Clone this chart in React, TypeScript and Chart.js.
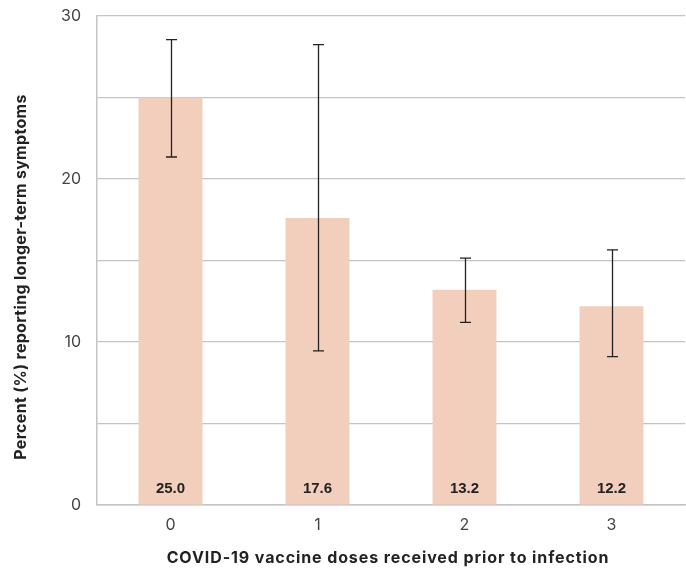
import React, { useEffect, useRef } from "react";
import { Chart, registerables } from "chart.js";

Chart.register(...registerables);

const categories = ["0", "1", "2", "3"];
const values = [25.0, 17.6, 13.2, 12.2];
const errLow = [21.35, 9.45, 11.2, 9.1];
const errHigh = [28.55, 28.25, 15.15, 15.65];
const yLabelledTicks = [0, 10, 20, 30];

const xTitle = "COVID-19 vaccine doses received prior to infection";
const yTitle = "Percent (%) reporting longer-term symptoms";

const FONT = "Inter, 'Open Sans', sans-serif";

const extrasPlugin = {
  id: "extras",
  afterDatasetsDraw(chart: any) {
    const ctx = chart.ctx;
    const meta = chart.getDatasetMeta(0);
    const y = chart.scales.y;
    ctx.save();
    ctx.strokeStyle = "#222222";
    ctx.lineWidth = 1.3;
    meta.data.forEach((bar: any, i: number) => {
      const x = Math.round(bar.x) + 0.5;
      const yh = y.getPixelForValue(errHigh[i]);
      const yl = y.getPixelForValue(errLow[i]);
      ctx.beginPath();
      ctx.moveTo(x, yh);
      ctx.lineTo(x, yl);
      ctx.moveTo(x - 5.5, yh);
      ctx.lineTo(x + 5.5, yh);
      ctx.moveTo(x - 5.5, yl);
      ctx.lineTo(x + 5.5, yl);
      ctx.stroke();
    });
    ctx.fillStyle = "#222222";
    ctx.font = "bold 15px 'Liberation Sans', Arial, sans-serif";
    ctx.textAlign = "center";
    ctx.textBaseline = "middle";
    const base = y.getPixelForValue(0);
    meta.data.forEach((bar: any, i: number) => {
      ctx.fillText(values[i].toFixed(1), bar.x, base - 16);
    });
    ctx.restore();
  },
  afterDraw(chart: any) {
    const ctx = chart.ctx;
    const area = chart.chartArea;
    ctx.save();
    ctx.fillStyle = "#222222";
    ctx.font = "bold 16px " + FONT;
    ctx.textAlign = "center";
    ctx.textBaseline = "middle";
    (ctx as any).letterSpacing = "0.9px";
    ctx.fillText(xTitle, (area.left + area.right) / 2 - 3, 558);
    (ctx as any).letterSpacing = "0.3px";
    ctx.translate(21, 277);
    ctx.rotate(-Math.PI / 2);
    ctx.fillText(yTitle, 0, 0);
    ctx.restore();
  },
};

function BarChart() {
  const ref = useRef<HTMLCanvasElement | null>(null);
  useEffect(() => {
    if (!ref.current) return;
    const chart = new Chart(ref.current, {
      type: "bar",
      data: {
        labels: categories,
        datasets: [
          {
            data: values,
            backgroundColor: "#f2cebd",
            borderWidth: 0,
            categoryPercentage: 1,
            barPercentage: 0.435,
          },
        ],
      },
      options: {
        animation: false,
        responsive: true,
        maintainAspectRatio: false,
        layout: { padding: { top: 16, right: 1, left: 0, bottom: 0 } },
        plugins: {
          legend: { display: false },
          tooltip: { enabled: false },
        },
        scales: {
          x: {
            grid: { display: false, drawTicks: false },
            border: { display: true, color: "#c4c4c4", width: 1.5 },
            ticks: {
              color: "#444444",
              font: { family: FONT, size: 16 },
              padding: 11,
            },
            afterFit(scale: any) {
              scale.height = 66;
              scale.paddingLeft = 0;
              scale.paddingRight = 0;
            },
          },
          y: {
            min: 0,
            max: 30,
            grid: { color: "#c4c4c4", lineWidth: 1.2, drawTicks: false },
            border: { display: true, color: "#c4c4c4", width: 1.5 },
            ticks: {
              stepSize: 5,
              color: "#444444",
              font: { family: FONT, size: 16 },
              padding: 16,
              callback: (v: any) => (yLabelledTicks.includes(Number(v)) ? String(v) : ""),
            },
            afterFit(scale: any) {
              scale.width = 97;
              scale.paddingTop = 0;
              scale.paddingBottom = 0;
            },
          },
        },
      },
      plugins: [extrasPlugin],
    });
    return () => chart.destroy();
  }, []);
  return <canvas ref={ref} />;
}

export default function App() {
  return (
    <div
      style={{
        position: "fixed",
        left: 0,
        top: 0,
        width: 686,
        height: 571,
        background: "#ffffff",
      }}
    >
      <BarChart />
    </div>
  );
}
